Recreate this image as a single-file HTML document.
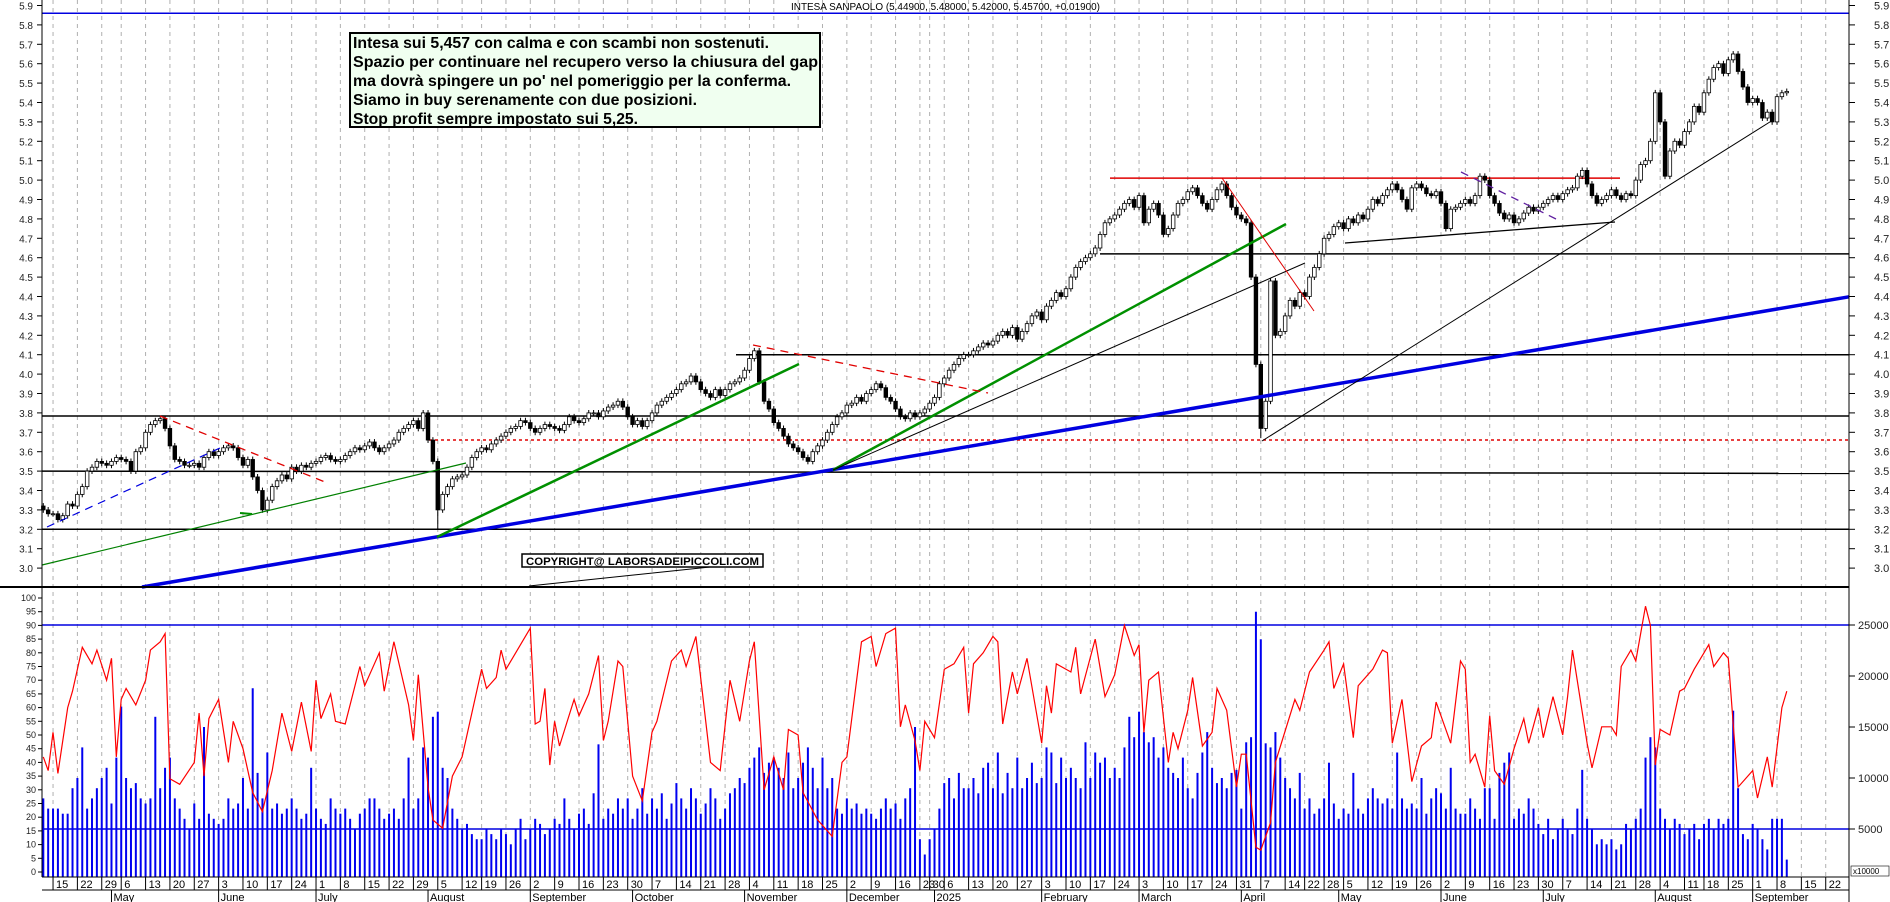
<!DOCTYPE html>
<html><head><meta charset="utf-8"><title>Intesa Sanpaolo</title>
<style>html,body{margin:0;padding:0;background:#fff}svg{display:block;font-family:"Liberation Sans",sans-serif}</style>
</head><body>
<svg id="chart" width="1890" height="902" viewBox="0 0 1890 902" xmlns="http://www.w3.org/2000/svg">
<rect x="0" y="0" width="1890" height="902" fill="#fff"/>
<g id="grid"></g>
<g id="lines"></g>
<g id="vol"></g>
<g id="osc"></g>
<g id="candles"></g>
<g id="trend"></g>
<g id="axes"></g>
<text x="791" y="10" font-size="10" textLength="309" lengthAdjust="spacingAndGlyphs" fill="#000">INTESA SANPAOLO (5.44900, 5.48000, 5.42000, 5.45700, +0.01900)</text>
<g>
<rect x="350" y="33" width="470" height="94" fill="#f0fff0" stroke="#000" stroke-width="2"/>
<g font-weight="bold" font-size="16" fill="#000">
<text x="353" y="48" textLength="416" lengthAdjust="spacingAndGlyphs">Intesa sui 5,457 con calma e con scambi non sostenuti.</text>
<text x="353" y="67" textLength="465" lengthAdjust="spacingAndGlyphs">Spazio per continuare nel recupero verso la chiusura del gap</text>
<text x="353" y="86" textLength="438" lengthAdjust="spacingAndGlyphs">ma dovrà spingere un po' nel pomeriggio per la conferma.</text>
<text x="353" y="105" textLength="344" lengthAdjust="spacingAndGlyphs">Siamo in buy serenamente con due posizioni.</text>
<text x="353" y="124" textLength="285" lengthAdjust="spacingAndGlyphs">Stop profit sempre impostato sui 5,25.</text>
</g></g>
<g>
<rect x="522" y="554" width="241" height="13" fill="#fff" stroke="#000" stroke-width="1.5"/>
<text x="526" y="565" font-size="11" font-weight="bold" textLength="233" lengthAdjust="spacingAndGlyphs">COPYRIGHT@ LABORSADEIPICCOLI.COM</text>
</g>
</svg>
<script>
// ---- data ----
const closes = [
3.30,3.28,
3.28,3.25,3.27,3.33,3.32,
3.38,3.42,3.50,3.52,3.55,
3.54,3.53,3.55,3.57,
3.56,3.55,3.50,3.60,3.62,
3.70,3.74,3.76,3.77,3.72,
3.63,3.56,3.55,3.53,3.53,
3.54,3.52,3.57,3.60,3.58,
3.60,3.62,3.63,3.62,3.57,
3.53,3.56,3.47,3.40,3.30,
3.35,3.42,3.45,3.48,3.46,
3.52,3.50,3.53,3.52,3.54,
3.55,3.57,3.58,3.56,3.55,
3.56,3.58,3.60,3.62,3.61,
3.63,3.65,3.62,3.60,3.62,
3.64,3.66,3.70,3.72,3.74,
3.76,3.72,3.80,3.66,3.55,
3.30,3.38,3.42,3.46,3.47,
3.48,3.52,3.57,3.60,
3.62,3.61,3.64,3.66,3.68,
3.70,3.72,3.73,3.76,3.75,
3.72,3.70,3.72,3.74,3.73,
3.72,3.71,3.74,3.78,3.76,
3.75,3.77,3.80,3.80,3.78,
3.81,3.83,3.84,3.86,3.83,
3.78,3.74,3.76,3.73,3.76,
3.80,3.84,3.86,3.88,3.90,
3.92,3.95,3.96,3.99,3.96,
3.92,3.90,3.88,3.92,3.89,
3.92,3.95,3.96,3.98,4.02,
4.08,4.12,3.96,3.86,3.82,
3.75,3.72,3.68,3.64,3.62,
3.60,3.57,3.55,3.60,3.63,
3.66,3.70,3.74,3.78,3.80,
3.84,3.85,3.88,3.86,3.90,
3.92,3.95,3.93,3.88,3.86,
3.82,3.78,3.77,3.80,3.78,
3.80,3.82,
3.85,3.88,3.95,
3.98,4.02,4.05,4.08,4.10,
4.10,4.12,4.14,4.16,4.15,
4.17,4.20,4.22,4.20,4.24,
4.18,4.22,4.26,4.30,4.32,
4.28,4.35,4.38,4.42,4.40,
4.44,4.50,4.55,4.58,4.60,
4.62,4.65,4.72,4.78,4.80,
4.82,4.85,4.88,4.90,4.86,
4.92,4.78,4.85,4.88,4.82,
4.72,4.75,4.82,4.88,4.90,
4.94,4.96,4.92,4.88,4.85,
4.90,4.95,4.98,4.92,4.86,
4.82,4.80,4.78,4.50,4.05,
3.72,3.86,4.48,4.20,4.22,
4.30,4.38,4.35,4.42,
4.40,4.50,4.55,4.62,
4.70,4.72,4.76,4.78,
4.75,4.80,4.78,4.82,4.80,
4.85,4.90,4.88,4.92,4.95,
4.98,4.95,4.90,4.85,4.96,
4.98,4.96,4.93,4.92,4.94,
4.88,4.75,4.85,4.86,4.88,
4.90,4.88,4.92,5.02,5.00,
4.92,4.88,4.83,4.80,4.82,
4.78,4.80,4.83,4.86,4.84,
4.86,4.88,4.90,4.92,4.90,
4.93,4.95,4.96,5.02,5.05,
4.98,4.92,4.88,4.90,4.92,
4.95,4.92,4.90,4.93,4.92,
5.00,5.08,5.10,5.20,5.45,
5.30,5.02,5.15,5.20,5.18,
5.25,5.30,5.38,5.35,
5.45,5.52,5.58,5.60,5.55,
5.62,5.65,5.56,5.48,5.40,
5.42,5.40,5.32,5.35,5.30,
5.43,5.45,5.457];
// volumes in thousands
const volumes = [
8,7, 7,7,6.5,6.5,9, 10,13,7,8,9, 10,11,7.5,12, 17,10,9,9.5,8,
7.5,8,16,9,11, 12,8,7,6,5, 7.5,6,15,6.5,6, 5.5,6,8,7,7.5, 10,7,18.8,10.5,8,
12.5,7,7.5,6.5,7, 8,7,6,6.5,11, 7,6,5.5,8,7, 6.5,7,6,5,6.5, 7,8,8,7,6,
6.5,7,6,8,12, 7,8,13,12,16, 16.5,11,10,7,6, 5,5.5,4.5,4, 4,5,4.5,4,5,
4.5,3.5,5,6,4, 5,6,5.5,4.5,5, 6,5.5,8,6,5, 6.5,7,5.5,8.5,13.3, 6,7,6.5,8,7,
8,6,7,9,6.5, 8,7,8.5,6,7.5, 9.5,8,7,9,8, 6.5,7.5,9,8,6, 7,8.5,9,10,9.5,
11,12,13,10.5,11.5, 12,11,10,12.5,9, 10,11.5,13,11,9, 12,9,10,7,6.5,
8,7,7.5,6.5,7, 6.5,6,7,8,7, 7.5,6,8,9,15, 4,2.5, 4,5,7,
9.5,10,8,10.5,9, 9,10,8.5,11,11.5, 9,12.5,8.5,10.5,9, 12,9,10,11.5,9.5,
10,13,12.5,9.5,12, 10,11,10,9,13.5, 10,12.5,11.5,12,10, 11,10,13,16,14,
16.5,14.5,13.5,14,12, 13,11,10.5,10,12, 9,8,10.5,12.5,14.5, 11,9.5,10,9,10.5,
10.8,7,13.5,14,26.3, 23.6,13.4,13,14.5,12, 10,9,8,10.5, 7,8,6.5,7, 8,11.5,7.5,6,
7,6.5,10.5,7,6.5, 8,9,8,7.5,8, 7,12.5,8,7,7.5, 7,10,6.5,8,9, 8.5,7,11,7,6.5,
6.5,8,7,6,9, 9,6,10.5,11.5,12.5, 6,7,6.5,8,7, 5.5,4.5,6,4,5, 6,5,4.5,7,10.8,
6,5,3.5,4,3.5, 4,3,3.5,5.5,5, 6,7,12,14,13, 7,6,5,6,5.5, 4.5,5,5.5,4,
5.5,6,5,6,5.5, 6,16.6,9,4.5,4, 5.5,5,4,3,6, 6,6,2];
const oscDay = [0,1,2,3,5,6,8,10,11,13,14,15,16,17,19,21,22,24,25,26,28,31,32,33,34,36,38,39,41,43,45,47,49,51,53,55,56,57,59,60,62,65,66,69,70,72,75,76,77,79,80,82,84,86,90,91,93,94,95,97,100,101,102,103,104,105,106,109,110,112,114,115,116,118,119,121,123,125,126,129,131,132,134,137,139,141,143,145,146,148,150,152,153,155,156,159,162,164,165,168,170,171,173,175,176,177,179,180,181,183,185,187,189,190,191,193,195,196,197,199,200,202,205,206,207,208,211,212,213,216,218,220,222,224,225,226,227,229,231,232,233,235,236,238,240,241,243,245,246,247,249,250,252,253,257,258,260,263,264,265,267,269,270,273,275,276,277,279,281,283,285,286,289,291,292,293,294,296,297,298,300,302,304,305,307,308,310,312,313,314,317,318,320,322,323,324,326,327,329,330,331,332,334,336,337,339,341,342,343,345,346,347,348,350,351,352,354,355,357,358];
const oscVal = [42,37,51,36,60,66,82,76,81,70,78,42,63,67,61,70,81,84,87,34,32,40,58,35,56,63,40,55,45,29,22,37,58,44,62,44,70,56,65,55,54,75,68,80,66,84,61,48,72,31,19,16,35,42,74,67,71,81,74,80,89,54,55,67,39,55,46,63,57,65,79,48,55,77,75,35,26,51,55,77,81,75,86,40,37,70,55,77,84,30,42,30,52,50,29,19,13,40,42,84,86,75,87,89,53,61,48,37,55,49,74,76,82,58,76,80,86,84,54,73,65,78,47,68,58,76,73,82,65,85,64,72,90,79,83,51,70,73,40,51,45,59,71,46,51,67,59,31,43,43,9,8,18,40,63,59,73,81,84,67,76,49,68,74,81,80,47,63,33,46,49,62,47,77,74,40,43,31,57,37,32,45,56,47,60,49,64,50,64,81,47,38,53,53,50,75,81,77,97,90,39,52,50,66,67,74,80,83,75,80,78,54,31,35,37,27,42,31,60,66];
const spikeDay = [81, 250];
const spikeLow = [3.20, 3.67];
const priceTicks = [3.0,3.1,3.2,3.3,3.4,3.5,3.6,3.7,3.8,3.9,4.0,4.1,4.2,4.3,4.4,4.5,4.6,4.7,4.8,4.9,5.0,5.1,5.2,5.3,5.4,5.5,5.6,5.7,5.8,5.9];
const volTicks = [5000,10000,15000,20000,25000];
const oscTicks = [0,5,10,15,20,25,30,35,40,45,50,55,60,65,70,75,80,85,90,95,100];
const monthNames = ["January","February","March","April","May","June","July","August","September","October","November","December"];
const holidays = ["2024-05-01","2024-08-15","2024-12-24","2024-12-25","2024-12-26","2024-12-31","2025-01-01","2025-04-18","2025-04-21","2025-05-01","2025-08-15"];

// ---- scales ----
const L = 42, R = 1849;
const X0 = 43.3, DX = 4.87;
const xOf = i => X0 + i * DX;
const yP = p => 5.5 + (5.9 - p) * 194;
const yV = v => 880 - v * 10.2 / 1000;
const yO = v => 872 - v * 2.74;
const NS = "http://www.w3.org/2000/svg";
function mk(tag, attrs, parent) {
  const e = document.createElementNS(NS, tag);
  for (const k in attrs) e.setAttribute(k, attrs[k]);
  parent.appendChild(e);
  return e;
}
const $ = id => document.getElementById(id);

const days = [];
{
  const d = new Date(Date.UTC(2024, 3, 11));
  const end = new Date(Date.UTC(2025, 8, 30));
  while (d <= end) {
    const wd = d.getUTCDay();
    const iso = d.toISOString().slice(0, 10);
    if (wd !== 0 && wd !== 6 && holidays.indexOf(iso) < 0) days.push(new Date(d));
    d.setUTCDate(d.getUTCDate() + 1);
  }
}
const ax = $("axes"), grid = $("grid");
let prevWeek = null, prevMonth = null;
days.forEach((d, i) => {
  const x = xOf(i);
  if (x > R - 5) return;
  const mon = new Date(d); mon.setUTCDate(d.getUTCDate() - ((d.getUTCDay() + 6) % 7));
  const wk = mon.toISOString();
  if (wk !== prevWeek) {
    prevWeek = wk;
    if (i > 0) {
      const g = mk("line", {x1: x, y1: 0, x2: x, y2: 877, stroke: "#b0b0b0", "stroke-width": 1, "stroke-dasharray": "4,4"}, grid);
      
      
      const t = mk("line", {x1: x, y1: 877, x2: x, y2: 890, stroke: "#000", "stroke-width": 1}, ax);
      
      
      const lb = mk("text", {x: x + 3, y: 888, "font-size": 11, fill: "#000"}, ax);
      lb.textContent = d.getUTCDate();
      
      
    }
  }
  const m = d.getUTCMonth();
  if (prevMonth !== null && m !== prevMonth) {
    const s = mk("line", {x1: x, y1: 890, x2: x, y2: 902, stroke: "#000", "stroke-width": 1}, ax);
    
    
    const ml = mk("text", {x: x + 2, y: 901, "font-size": 11, fill: "#000"}, ax);
    ml.textContent = m === 0 ? String(d.getUTCFullYear()) : monthNames[m];
    
    
  }
  prevMonth = m;
});
[[L,0,L,877],[R,0,R,902],[L,877,R,877],[L,890,R,890],[0,587,R,587]].forEach(c => {
  const f = mk("line", {x1: c[0], y1: c[1], x2: c[2], y2: c[3], stroke: "#000", "stroke-width": c[1]===587?2:1}, ax);
  
  
});
priceTicks.forEach(p => {
  const y = yP(p);
  const a = mk("text", {x: 1874, y: y + 4, "font-size": 11, fill: "#222"}, ax);
  a.textContent = p.toFixed(1);
  
  
  const b = mk("text", {x: 33, y: y + 4, "font-size": 10, fill: "#222", "text-anchor": "end"}, ax);
  b.textContent = p.toFixed(1);
  
  
  mk("line", {x1: R, y1: y, x2: R + 6, y2: y, stroke: "#000"}, ax);
  mk("line", {x1: L - 5, y1: y, x2: L, y2: y, stroke: "#000"}, ax);
});
volTicks.forEach(v => {
  const y = yV(v);
  const a = mk("text", {x: 1858, y: y + 4, "font-size": 11, fill: "#222"}, ax);
  a.textContent = v;
  
  
  mk("line", {x1: R, y1: y, x2: R + 6, y2: y, stroke: "#000"}, ax);
});
oscTicks.forEach(v => {
  const y = yO(v);
  const a = mk("text", {x: 36, y: y + 3, "font-size": 9, fill: "#222", "text-anchor": "end"}, ax);
  a.textContent = v;
  
  
  mk("line", {x1: L - 4, y1: y, x2: L, y2: y, stroke: "#000"}, ax);
});
{
  const r = mk("rect", {x: 1851, y: 866, width: 38, height: 10, fill: "#fff", stroke: "#000", "stroke-width": 0.6}, ax);
  
  
  const t = mk("text", {x: 1853, y: 874, "font-size": 8}, ax);
  t.textContent = "x10000";
  
  
}
const lines = $("lines");
function seg(x1, y1, x2, y2, col, w, dash, name, g) {
  const e = mk("line", {x1, y1, x2, y2, stroke: col, "stroke-width": w}, g || lines);
  if (dash) e.setAttribute("stroke-dasharray", dash);
  
  
  return e;
}
seg(L, yP(5.86), R, yP(5.86), "#0000e0", 1.5, null, "resistance-5-86");
seg(L, yP(3.784), R, yP(3.784), "#000", 1.5, null, "level-3-78");
seg(L, yP(3.5), R, yP(3.488), "#000", 1.5, null, "level-3-50");
seg(L, yP(3.2), R, yP(3.2), "#000", 1.5, null, "level-3-20");
seg(736, yP(4.1), R, yP(4.1), "#000", 1.5, null, "level-4-10");
seg(1100, yP(4.62), R, yP(4.62), "#000", 1.5, null, "level-4-62");
seg(1110, yP(5.01), 1620, yP(5.01), "#e00000", 1.5, null, "level-5-01");
seg(429, yP(3.66), R, yP(3.66), "#e00000", 1.5, "3,3", "gap-level-3-66");
seg(L, yV(25000), R, yV(25000), "#0000e0", 1.5, null, "volume-level-25000");
seg(L, yV(5000), R, yV(5000), "#0000e0", 1.5, null, "volume-level-5000");

const vg = $("vol");
volumes.forEach((v, i) => {
  const x = xOf(i);
  const y = yV(v * 1000);
  const b = mk("rect", {x: x - 1, y: y, width: 2, height: 877 - y, fill: "#0000f0"}, vg);
  
  
});
{
  const pts = oscDay.map((d, k) => xOf(d).toFixed(1) + "," + yO(oscVal[k]).toFixed(1)).join(" ");
  const pl = mk("polyline", {points: pts, fill: "none", stroke: "#ff0000", "stroke-width": 1.2}, $("osc"));
  
  
}
const cg = $("candles");
closes.forEach((c, i) => {
  const o = i === 0 ? c + 0.02 : closes[i - 1];
  const x = xOf(i);
  const hi = Math.max(o, c) + 0.015;
  let lo = Math.min(o, c) - 0.015;
  const si = spikeDay.indexOf(i);
  if (si >= 0) lo = spikeLow[si];
  const w = mk("line", {x1: x, y1: yP(hi), x2: x, y2: yP(lo), stroke: "#000", "stroke-width": 1}, cg);
  
  
  const top = yP(Math.max(o, c)), h = Math.max(1, yP(Math.min(o, c)) - top);
  const up = c >= o;
  const b = mk("rect", {x: x - 1.8, y: top, width: 3.6, height: h, fill: up ? "#fff" : "#000", stroke: "#000", "stroke-width": 0.8}, cg);
  
  
});
const tg = $("trend");
seg(142, 587, R, 587 - 0.170 * (R - 142), "#0000e0", 3.5, null, "long-support-blue", tg);
seg(L, 565, 466, 463, "#008000", 1.2, null, "green-support-thin", tg);
seg(437, 537, 799, 364, "#009000", 2.5, null, "green-support-aug", tg);
seg(833, 470, 1286, 224, "#009000", 2.5, null, "green-support-nov", tg);
seg(833, 470, 1305, 263, "#000", 1, null, "black-support-nov", tg);
seg(1262, 441, 1773, 120, "#000", 1, null, "black-support-apr", tg);
seg(1345, 243, 1615, 222, "#000", 1.3, null, "black-support-jun", tg);
seg(160, 416, 325, 482, "#e00000", 1.3, "8,6", "red-resistance-may", tg);
seg(753, 345, 988, 393, "#e00000", 1.3, "8,6", "red-resistance-nov", tg);
seg(1222, 178, 1314, 311, "#e00000", 1, null, "red-resistance-mar", tg);
seg(47, 527, 220, 448, "#0000e0", 1.2, "8,6", "blue-support-dashed", tg);
seg(1461, 172, 1558, 220, "#6020a0", 1.3, "8,6", "purple-resistance", tg);
seg(529, 586, 710, 567, "#000", 1, null, "copyright-underline", tg);
seg(240, 513, 252, 514, "#009000", 2, null, "green-arrow", tg);
</script>
</body></html>
